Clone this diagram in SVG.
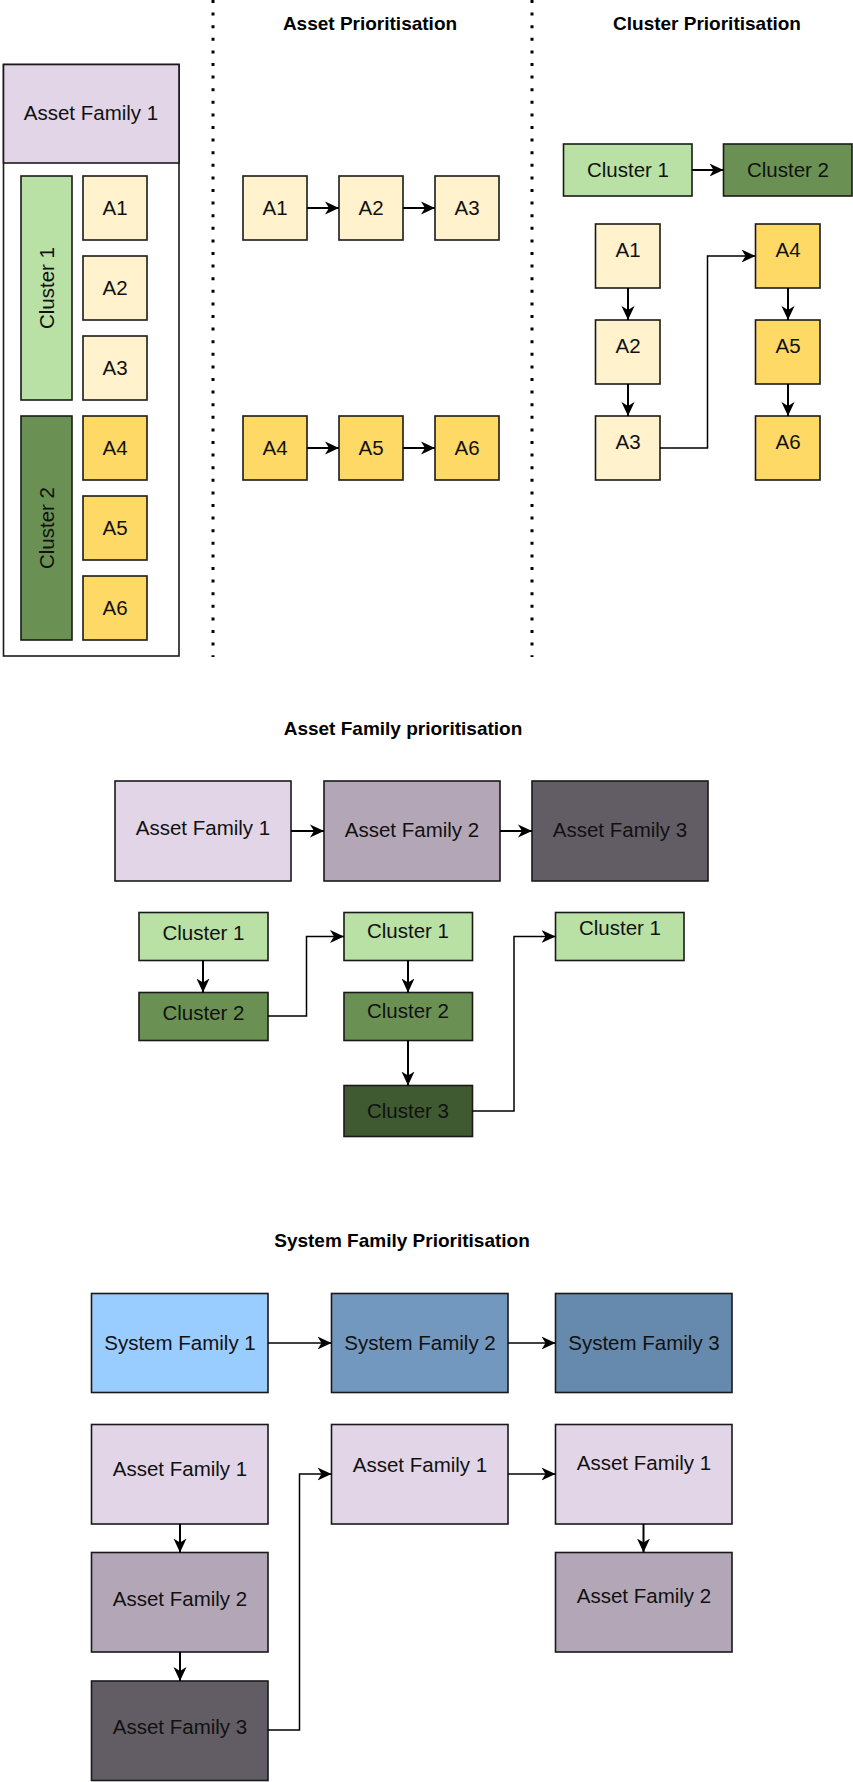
<svg xmlns="http://www.w3.org/2000/svg" width="853" height="1782" viewBox="0 0 853 1782">
  <style>
    .box { stroke: #1a1a1a; stroke-width: 1.6; }
    .t { font-family: "Liberation Sans", Arial, sans-serif; font-size: 20.5px; fill: #111; text-anchor: middle; }
    .h { font-family: "Liberation Sans", Arial, sans-serif; font-size: 19px; font-weight: bold; fill: #000; text-anchor: middle; }
    .a-light { fill: #FFF2CC; }
    .a-dark { fill: #FFD966; }
    .c1 { fill: #B9E0A5; }
    .c2 { fill: #6A9153; }
    .c3 { fill: #3F5A30; }
    .af1 { fill: #E1D5E7; }
    .af2 { fill: #B3A7B7; }
    .af3 { fill: #625D65; }
    .sf1 { fill: #99CCFF; }
    .sf2 { fill: #7398C0; }
    .sf3 { fill: #6689AE; }
    .edge { fill: none; stroke: #000; stroke-width: 2; }
    .elbow { fill: none; stroke: #000; stroke-width: 1.5; }
    .sep { stroke: #000; stroke-width: 3; stroke-dasharray: 3 9.6; }
  </style>
  <defs>
    <marker id="arrow" markerUnits="userSpaceOnUse" markerWidth="14" markerHeight="14" viewBox="0 0 14 14" refX="14" refY="7" orient="auto">
      <path d="M0,0.5 L14,7 L0,13.5 L4,7 Z" fill="#000"/>
    </marker>
  </defs>
  <rect width="853" height="1782" fill="#fff"/>

  <!-- section separators -->
  <g id="separators">
    <line class="sep" x1="213" y1="0" x2="213" y2="657"/>
    <line class="sep" x1="532" y1="0" x2="532" y2="657"/>
  </g>

  <!-- titles -->
  <g id="titles">
    <text class="h" x="370" y="30">Asset Prioritisation</text>
    <text class="h" x="707" y="30">Cluster Prioritisation</text>
    <text class="h" x="403" y="735">Asset Family prioritisation</text>
    <text class="h" x="402" y="1247">System Family Prioritisation</text>
  </g>

  <!-- asset family 1 breakdown -->
  <g id="family-container">
    <rect x="3.5" y="64.5" width="175.5" height="591.5" fill="#fff" class="box"/>
    <rect x="3.5" y="64.5" width="175.5" height="98.5" class="box af1"/>
    <text class="t" x="91" y="120">Asset Family 1</text>
  </g>
  <g id="left-cluster1">
    <rect x="21" y="176" width="51" height="224" class="box c1"/>
    <text class="t" transform="translate(53.5 288) rotate(-90)" x="0" y="0">Cluster 1</text>
  </g>
  <g id="left-cluster2">
    <rect x="21" y="416" width="51" height="224" class="box c2"/>
    <text class="t" transform="translate(53.5 528) rotate(-90)" x="0" y="0">Cluster 2</text>
  </g>
  <g id="left-a1"><rect x="83" y="176" width="64" height="64" class="box a-light"/><text class="t" x="115" y="215">A1</text></g>
  <g id="left-a2"><rect x="83" y="256" width="64" height="64" class="box a-light"/><text class="t" x="115" y="295">A2</text></g>
  <g id="left-a3"><rect x="83" y="336" width="64" height="64" class="box a-light"/><text class="t" x="115" y="375">A3</text></g>
  <g id="left-a4"><rect x="83" y="416" width="64" height="64" class="box a-dark"/><text class="t" x="115" y="455">A4</text></g>
  <g id="left-a5"><rect x="83" y="496" width="64" height="64" class="box a-dark"/><text class="t" x="115" y="535">A5</text></g>
  <g id="left-a6"><rect x="83" y="576" width="64" height="64" class="box a-dark"/><text class="t" x="115" y="615">A6</text></g>

  <!-- asset prioritisation -->
  <g id="ap-a1"><rect x="243" y="176" width="64" height="64" class="box a-light"/><text class="t" x="275" y="215">A1</text></g>
  <g id="ap-a2"><rect x="339" y="176" width="64" height="64" class="box a-light"/><text class="t" x="371" y="215">A2</text></g>
  <g id="ap-a3"><rect x="435" y="176" width="64" height="64" class="box a-light"/><text class="t" x="467" y="215">A3</text></g>
  <g id="ap-a4"><rect x="243" y="416" width="64" height="64" class="box a-dark"/><text class="t" x="275" y="455">A4</text></g>
  <g id="ap-a5"><rect x="339" y="416" width="64" height="64" class="box a-dark"/><text class="t" x="371" y="455">A5</text></g>
  <g id="ap-a6"><rect x="435" y="416" width="64" height="64" class="box a-dark"/><text class="t" x="467" y="455">A6</text></g>

  <!-- cluster prioritisation -->
  <g id="cp-cluster1"><rect x="563.5" y="144" width="128.5" height="52" class="box c1"/><text class="t" x="628" y="177">Cluster 1</text></g>
  <g id="cp-cluster2"><rect x="723.5" y="144" width="128.5" height="52" class="box c2"/><text class="t" x="788" y="177">Cluster 2</text></g>
  <g id="cp-a1"><rect x="595.5" y="224" width="64.5" height="64" class="box a-light"/><text class="t" x="628" y="257">A1</text></g>
  <g id="cp-a2"><rect x="595.5" y="320" width="64.5" height="64" class="box a-light"/><text class="t" x="628" y="353">A2</text></g>
  <g id="cp-a3"><rect x="595.5" y="416" width="64.5" height="64" class="box a-light"/><text class="t" x="628" y="449">A3</text></g>
  <g id="cp-a4"><rect x="755.5" y="224" width="64.5" height="64" class="box a-dark"/><text class="t" x="788" y="257">A4</text></g>
  <g id="cp-a5"><rect x="755.5" y="320" width="64.5" height="64" class="box a-dark"/><text class="t" x="788" y="353">A5</text></g>
  <g id="cp-a6"><rect x="755.5" y="416" width="64.5" height="64" class="box a-dark"/><text class="t" x="788" y="449">A6</text></g>

  <!-- asset family prioritisation -->
  <g id="afp-af1"><rect x="115" y="781" width="176" height="100" class="box af1"/><text class="t" x="203" y="835">Asset Family 1</text></g>
  <g id="afp-af2"><rect x="324" y="781" width="176" height="100" class="box af2"/><text class="t" x="412" y="837">Asset Family 2</text></g>
  <g id="afp-af3"><rect x="532" y="781" width="176" height="100" class="box af3"/><text class="t" x="620" y="837">Asset Family 3</text></g>
  <g id="afp-c1a"><rect x="139" y="912.5" width="129" height="48" class="box c1"/><text class="t" x="203.5" y="940">Cluster 1</text></g>
  <g id="afp-c2a"><rect x="139" y="992.5" width="129" height="48" class="box c2"/><text class="t" x="203.5" y="1020">Cluster 2</text></g>
  <g id="afp-c1b"><rect x="344" y="912.5" width="128.5" height="48" class="box c1"/><text class="t" x="408" y="938">Cluster 1</text></g>
  <g id="afp-c2b"><rect x="344" y="992.5" width="128.5" height="48" class="box c2"/><text class="t" x="408" y="1018">Cluster 2</text></g>
  <g id="afp-c3b"><rect x="344" y="1085.5" width="128.5" height="51" class="box c3"/><text class="t" x="408" y="1118">Cluster 3</text></g>
  <g id="afp-c1c"><rect x="555.5" y="912.5" width="128.5" height="48" class="box c1"/><text class="t" x="620" y="935">Cluster 1</text></g>

  <!-- system family prioritisation -->
  <g id="sfp-sf1"><rect x="91.5" y="1293.5" width="176.5" height="99" class="box sf1"/><text class="t" x="180" y="1350">System Family 1</text></g>
  <g id="sfp-sf2"><rect x="331.5" y="1293.5" width="176.5" height="99" class="box sf2"/><text class="t" x="420" y="1350">System Family 2</text></g>
  <g id="sfp-sf3"><rect x="555.5" y="1293.5" width="176.5" height="99" class="box sf3"/><text class="t" x="644" y="1350">System Family 3</text></g>
  <g id="sfp-af1a"><rect x="91.5" y="1424.5" width="176.5" height="99.5" class="box af1"/><text class="t" x="180" y="1476">Asset Family 1</text></g>
  <g id="sfp-af2a"><rect x="91.5" y="1552.5" width="176.5" height="99.5" class="box af2"/><text class="t" x="180" y="1606">Asset Family 2</text></g>
  <g id="sfp-af3a"><rect x="91.5" y="1681" width="176.5" height="99.5" class="box af3"/><text class="t" x="180" y="1734">Asset Family 3</text></g>
  <g id="sfp-af1b"><rect x="331.5" y="1424.5" width="176.5" height="99.5" class="box af1"/><text class="t" x="420" y="1472">Asset Family 1</text></g>
  <g id="sfp-af1c"><rect x="555.5" y="1424.5" width="176.5" height="99.5" class="box af1"/><text class="t" x="644" y="1470">Asset Family 1</text></g>
  <g id="sfp-af2c"><rect x="555.5" y="1552.5" width="176.5" height="99.5" class="box af2"/><text class="t" x="644" y="1603">Asset Family 2</text></g>

  <!-- connectors -->
  <g id="connectors">
    <path class="edge" d="M307,208 H339" marker-end="url(#arrow)"/>
    <path class="edge" d="M403,208 H435" marker-end="url(#arrow)"/>
    <path class="edge" d="M307,448 H339" marker-end="url(#arrow)"/>
    <path class="edge" d="M403,448 H435" marker-end="url(#arrow)"/>

    <path class="edge" d="M692,170 H723.5" marker-end="url(#arrow)"/>
    <path class="edge" d="M628,288 V320" marker-end="url(#arrow)"/>
    <path class="edge" d="M628,384 V416" marker-end="url(#arrow)"/>
    <path class="edge" d="M788,288 V320" marker-end="url(#arrow)"/>
    <path class="edge" d="M788,384 V416" marker-end="url(#arrow)"/>
    <path class="elbow" d="M660,448 H707.5 V256 H755.5" marker-end="url(#arrow)"/>

    <path class="edge" d="M291,831 H324" marker-end="url(#arrow)"/>
    <path class="edge" d="M500,831 H532" marker-end="url(#arrow)"/>
    <path class="edge" d="M203,960.5 V992.5" marker-end="url(#arrow)"/>
    <path class="elbow" d="M268,1016 H306.5 V936.5 H344" marker-end="url(#arrow)"/>
    <path class="edge" d="M408,960.5 V992.5" marker-end="url(#arrow)"/>
    <path class="edge" d="M408,1040.5 V1085.5" marker-end="url(#arrow)"/>
    <path class="elbow" d="M472.5,1111 H514 V936.5 H555.5" marker-end="url(#arrow)"/>

    <path class="elbow" d="M268,1343 H331.5" marker-end="url(#arrow)"/>
    <path class="elbow" d="M508,1343 H555.5" marker-end="url(#arrow)"/>
    <path class="edge" d="M180,1524 V1552.5" marker-end="url(#arrow)"/>
    <path class="edge" d="M180,1652 V1681" marker-end="url(#arrow)"/>
    <path class="elbow" d="M268,1730 H299.5 V1474 H331.5" marker-end="url(#arrow)"/>
    <path class="elbow" d="M508,1474 H555.5" marker-end="url(#arrow)"/>
    <path class="edge" d="M643.5,1524 V1552.5" marker-end="url(#arrow)"/>
  </g>
</svg>
